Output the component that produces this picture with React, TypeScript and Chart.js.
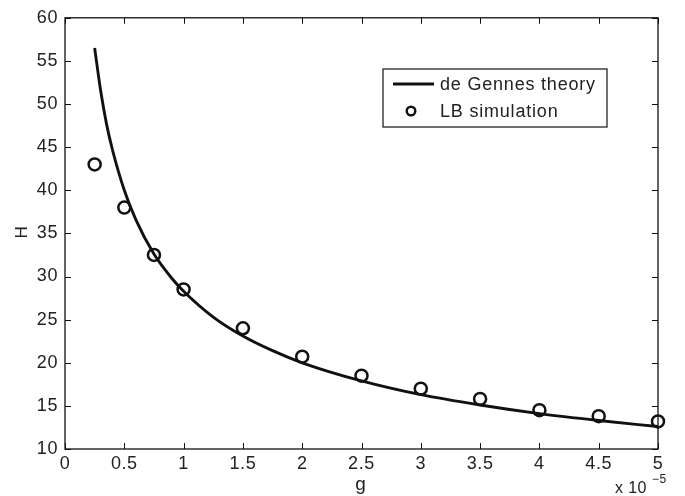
import React, { useEffect, useRef } from "react";
import { Chart, registerables } from "chart.js";

Chart.register(...registerables);

const theoryG = [0.25, 0.3, 0.35, 0.4, 0.5, 0.6, 0.75, 0.9, 1, 1.25, 1.5, 1.75, 2, 2.5, 3, 3.5, 4, 4.5, 5];
const theoryH = [56.5, 51.6, 47.7, 44.7, 40.0, 36.5, 32.6, 29.8, 28.3, 25.3, 23.1, 21.4, 20.0, 17.9, 16.3, 15.1, 14.1, 13.3, 12.6];
const simG = [0.25, 0.5, 0.75, 1, 1.5, 2, 2.5, 3, 3.5, 4, 4.5, 5];
const simH = [43, 38, 32.5, 28.5, 24, 20.7, 18.5, 17, 15.8, 14.5, 13.8, 13.2];
const xTicks = [0, 0.5, 1, 1.5, 2, 2.5, 3, 3.5, 4, 4.5, 5];
const yTicks = [10, 15, 20, 25, 30, 35, 40, 45, 50, 55, 60];

const FONT = "'Liberation Sans', Arial, Helvetica, sans-serif";

const spacingPlugin = {
  id: "spacing",
  beforeDraw(chart: any) {
    (chart.ctx as any).letterSpacing = "0.6px";
  },
};

const framePlugin = {
  id: "frame",
  afterDraw(chart: any) {
    const { ctx, chartArea, scales } = chart;
    const { left, right, top, bottom } = chartArea;
    const x = scales.x;
    const y = scales.y;
    ctx.save();
    ctx.strokeStyle = "#111";
    ctx.lineWidth = 1.3;
    ctx.strokeRect(left, top, right - left, bottom - top);
    ctx.lineWidth = 1;
    const tl = 6;
    ctx.beginPath();
    xTicks.forEach((v) => {
      const px = Math.round(x.getPixelForValue(v)) + 0.5;
      ctx.moveTo(px, bottom);
      ctx.lineTo(px, bottom - tl);
      ctx.moveTo(px, top);
      ctx.lineTo(px, top + tl);
    });
    yTicks.forEach((v) => {
      const py = Math.round(y.getPixelForValue(v)) + 0.5;
      ctx.moveTo(left, py);
      ctx.lineTo(left + tl, py);
      ctx.moveTo(right, py);
      ctx.lineTo(right - tl, py);
    });
    ctx.stroke();

    // legend
    const lx = 383, ly = 69, lw = 224, lh = 58;
    ctx.fillStyle = "#fff";
    ctx.fillRect(lx, ly, lw, lh);
    ctx.strokeStyle = "#111";
    ctx.lineWidth = 1.2;
    ctx.strokeRect(lx, ly, lw, lh);
    ctx.lineWidth = 2.8;
    ctx.beginPath();
    ctx.moveTo(393, 84);
    ctx.lineTo(434, 84);
    ctx.stroke();
    ctx.lineWidth = 2.4;
    ctx.beginPath();
    ctx.arc(411, 111, 4.3, 0, Math.PI * 2);
    ctx.stroke();
    ctx.fillStyle = "#222";
    (ctx as any).letterSpacing = "0.8px";
    ctx.font = "18px " + FONT;
    ctx.textBaseline = "middle";
    ctx.textAlign = "left";
    ctx.fillText("de Gennes theory", 440, 85);
    ctx.fillText("LB simulation", 440, 112);

    // axis labels
    ctx.textAlign = "center";
    ctx.font = "19px " + FONT;
    ctx.textBaseline = "alphabetic";
    ctx.fillText("g", 361, 490);
    ctx.save();
    ctx.translate(27, 232);
    ctx.rotate(-Math.PI / 2);
    ctx.font = "17px " + FONT;
    ctx.fillText("H", 0, 0);
    ctx.restore();
    ctx.font = "16px " + FONT;
    ctx.textAlign = "left";
    (ctx as any).letterSpacing = "0.4px";
    ctx.fillText("x 10", 615, 493);
    ctx.font = "12px " + FONT;
    ctx.fillText("\u22125", 652, 483);
    ctx.restore();
  },
};

export default function App() {
  const ref = useRef<HTMLCanvasElement>(null);
  useEffect(() => {
    const chart = new Chart(ref.current!, {
      type: "line",
      data: {
        datasets: [
          {
            label: "de Gennes theory",
            data: theoryG.map((g, i) => ({ x: g, y: theoryH[i] })),
            borderColor: "#111",
            borderWidth: 2.9,
            pointRadius: 0,
            fill: false,
            cubicInterpolationMode: "monotone",
          },
          {
            label: "LB simulation",
            data: simG.map((g, i) => ({ x: g, y: simH[i] })),
            showLine: false,
            borderColor: "#111",
            backgroundColor: "rgba(0,0,0,0)",
            pointRadius: 6,
            pointBorderWidth: 2.5,
            pointBorderColor: "#111",
            pointBackgroundColor: "rgba(0,0,0,0)",
            clip: false as any,
          },
        ],
      },
      options: {
        animation: false,
        responsive: false,
        maintainAspectRatio: false,
        layout: { padding: { left: 0, top: 16, right: 27, bottom: 0 } },
        plugins: { legend: { display: false }, tooltip: { enabled: false } },
        scales: {
          x: {
            type: "linear",
            min: 0,
            max: 5,
            grid: { display: false, drawTicks: false },
            border: { display: false },
            afterFit: (s: any) => { s.height = 47; },
            afterBuildTicks: (s: any) => { s.ticks = xTicks.map((v) => ({ value: v })); },
            ticks: {
              color: "#222",
              font: { family: FONT, size: 18 },
              padding: 4,
              maxRotation: 0,
              autoSkip: false,
              callback: (v: any) => String(v),
            },
          },
          y: {
            type: "linear",
            min: 10,
            max: 60,
            grid: { display: false, drawTicks: false },
            border: { display: false },
            afterFit: (s: any) => { s.width = 65; },
            afterBuildTicks: (s: any) => { s.ticks = yTicks.map((v) => ({ value: v })); },
            ticks: {
              color: "#222",
              font: { family: FONT, size: 18 },
              padding: 7,
              autoSkip: false,
              callback: (v: any) => String(v),
            },
          },
        },
      },
      plugins: [spacingPlugin, framePlugin],
    });
    return () => chart.destroy();
  }, []);
  return (
    <div style={{ position: "absolute", left: 0, top: 0, width: 685, height: 496, background: "#fff" }}>
      <canvas ref={ref} width={685} height={496} style={{ width: 685, height: 496 }} />
    </div>
  );
}
